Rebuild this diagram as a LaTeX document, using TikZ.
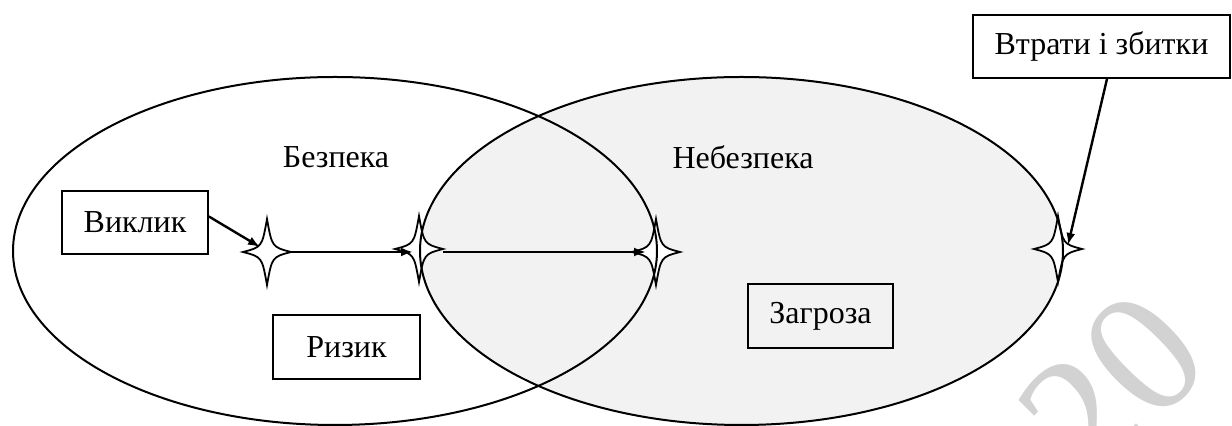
\documentclass[tikz,border=0pt]{standalone}
\usepackage{fontspec}
\setmainfont{Liberation Serif}
\newfontfamily\tnrfont{Liberation Serif}
\usetikzlibrary{calc,arrows.meta}
\definecolor{fillgray}{RGB}{242,242,242}
\definecolor{wmgray}{RGB}{210,210,210}
\begin{document}
\begin{tikzpicture}[x=0.5pt,y=-0.5pt,
  box/.style={draw, line width=0.9pt, inner sep=0pt, font=\tnrfont\fontsize{16}{19}\selectfont},
  lbl/.style={font=\tnrfont\fontsize{16}{19}\selectfont, inner sep=0pt},
  arr/.style={line width=1.2pt, -{Latex[length=6pt,width=4.5pt]}},
  ell/.style={line width=1pt},
  star4/.pic={\draw[line width=0.9pt, fill=white] (0,-33) .. controls (5,-5) .. (24,0) .. controls (5,5) .. (0,33) .. controls (-5,5) .. (-24,0) .. controls (-5,-5) .. cycle;}
]
\useasboundingbox (0,0) rectangle (1232,426);
\clip (0,0) rectangle (1232,426);
% watermark
\node[text=wmgray, rotate=45, font=\tnrfont\fontsize{88}{88}\selectfont, inner sep=0pt] (wm) at (1050,448) {2020};
% gray area of the right ellipse
\fill[fillgray] (741.5,251) ellipse [x radius=160.75pt, y radius=87pt];
% stars
\coordinate (s1) at (267,252);
\coordinate (s2) at (419,249);
\coordinate (s3) at (656,252);
\coordinate (s4) at (1058,249);
\pic at (s1) {star4};
\pic at (s2) {star4};
\pic at (s3) {star4};
\pic at (s4) {star4};
% ellipse outlines
\draw[ell] (741.5,251) ellipse [x radius=160.75pt, y radius=87pt];
\draw[ell] (335,251) ellipse [x radius=161pt, y radius=87pt];
% labels
\node[lbl] (bezpeka) at (336,157) {Безпека};
\node[lbl] (nebezpeka) at (743,157) {Небезпека};
% boxes
\node[box, minimum width=73pt, minimum height=31.5pt] (vyklyk) at (135,222.5) {Виклик};
\node[box, minimum width=73.5pt, minimum height=32pt] (ryzyk) at (346.5,347) {Ризик};
\node[box, minimum width=72.5pt, minimum height=32pt] (zagroza) at (820.5,316) {Загроза};
\node[box, fill=white, minimum width=128.5pt, minimum height=31.5pt] (loss) at (1101.5,46.5) {Втрати і збитки};
% arrows
\draw[arr] ([yshift=3pt]vyklyk.east) -- ($(s1)+(-7,-5)$);
\draw[arr, shorten <=12pt, shorten >=3pt] (s1) -- (s1 -| s2);
\draw[arr, shorten <=12pt, shorten >=5pt] (s2 |- s1) -- (s3);
\draw[arr] ([xshift=2.75pt]loss.south) -- ($(s4)+(10,-4)$);
\end{tikzpicture}
\end{document}
